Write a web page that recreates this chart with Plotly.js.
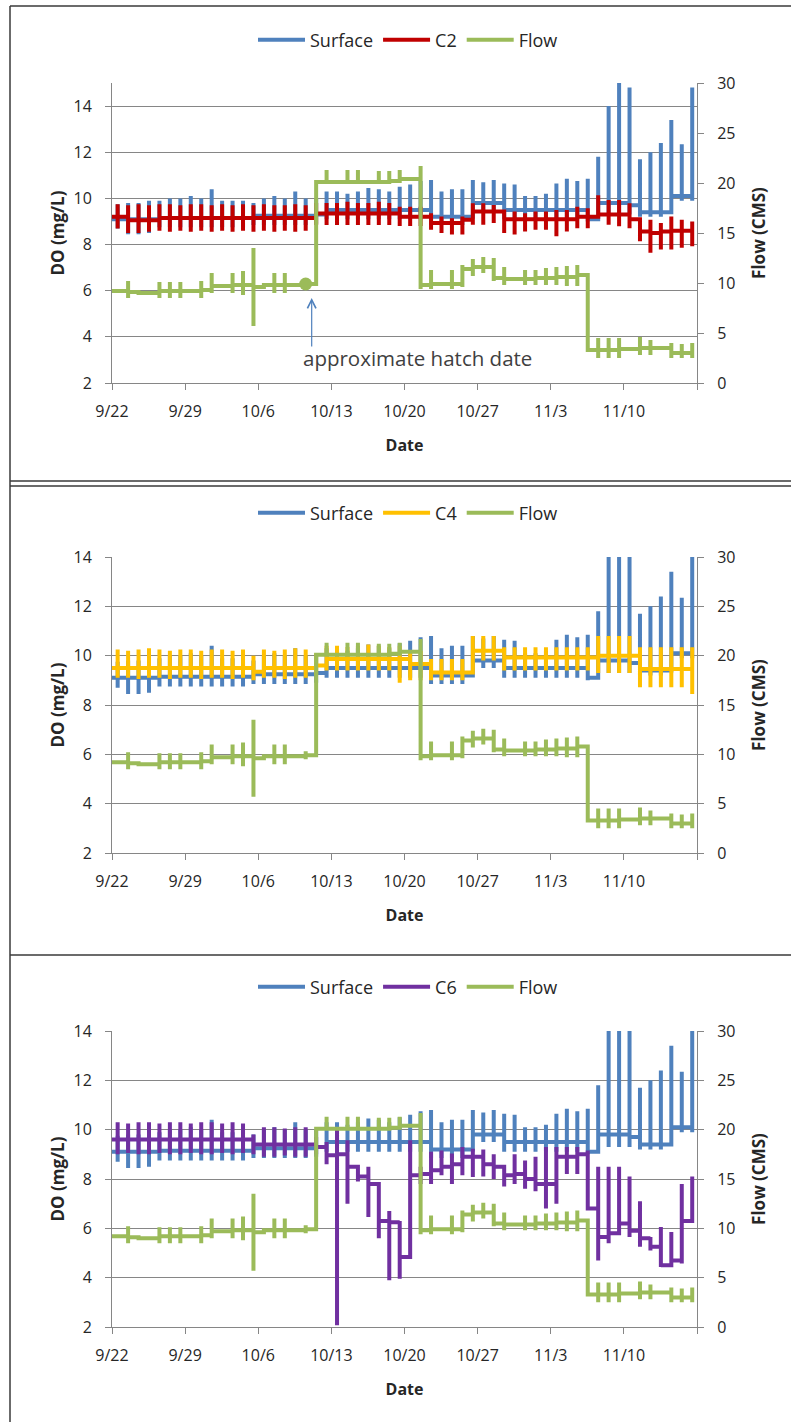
<!DOCTYPE html>
<html>
<head>
<meta charset="utf-8">
<script src="https://cdn.plot.ly/plotly-3.0.1.min.js"></script>
<style>html,body{margin:0;padding:0;background:#fff;}#chart{width:791px;height:1422px;}</style>
</head>
<body>
<div id="chart"></div>
<script>
// ---------- DATA (daily values, day 0 = 9/22) ----------
const startDate = [2009, 8, 22];
const nDays = 56;
const tickLabels = ['9/22','9/29','10/6','10/13','10/20','10/27','11/3','11/10',''];
const seriesNames = ['Surface','C2','C4','C6','Flow'];

const flowBase = [9.2,9.1,9.0,9.0,9.2,9.2,9.2,9.2,9.3,9.7, 9.7,9.8,9.8,9.6,9.8,9.8,9.8,9.8,9.9,20.1, 20.1,20.1,20.1,20.1,20.1,20.1,20.2,20.4,20.4,9.8, 9.9,9.9,9.9,11.4,11.6,11.6,10.5,10.4,10.4,10.4, 10.5,10.5,10.6,10.6,10.8,3.3,3.3,3.3,3.4,3.4, 3.5,3.5,3.5,3.0,3.0,3.0];
const flowHi = [null,10.2,null,null,10.1,10.1,10.1,null,10.2,11.0, null,11.0,11.2,13.5,null,11.0,11.0,null,10.3,null, 21.3,null,21.3,21.3,null,21.2,21.2,21.3,null,21.7, 11.3,null,11.3,11.8,12.4,12.6,12.5,11.6,null,11.3, 11.3,11.5,11.6,11.7,11.8,null,4.5,4.5,4.5,null, 4.6,4.3,null,4.0,3.9,4.0];
const flowLo = [null,8.5,null,null,8.5,8.5,8.5,null,8.5,9.0, null,9.0,8.8,5.7,null,9.0,9.0,null,9.5,null, 20.0,null,20.1,20.1,null,20.1,20.1,20.1,null,9.4, 9.4,null,9.4,9.6,10.7,11.0,10.2,9.8,null,9.8, 9.8,9.8,9.8,9.7,9.7,null,2.5,2.5,2.5,null, 2.8,2.8,null,2.5,2.5,2.5];

const surfBase = [9.1,9.1,9.1,9.1,9.15,9.15,9.15,9.15,9.15,9.15, 9.15,9.15,9.15,9.25,9.25,9.25,9.25,9.25,9.25,9.3, 9.5,9.5,9.5,9.5,9.5,9.5,9.5,9.5,9.5,9.5, 9.2,9.2,9.2,9.2,9.8,9.8,9.8,9.5,9.5,9.5, 9.5,9.5,9.5,9.5,9.5,9.1,9.8,9.8,9.8,9.7, 9.4,9.4,9.4,10.1,10.1,10.1];
const surfHi = [9.75,9.8,9.8,9.9,9.9,10.0,10.0,10.1,10.0,10.4, 9.9,9.9,9.9,9.8,10.0,10.1,10.0,10.3,10.0,10.0, 10.3,10.3,10.2,10.3,10.45,10.4,10.3,10.5,10.6,10.75, 10.8,10.3,10.4,10.4,10.8,10.7,10.8,10.65,10.6,10.1, 10.1,10.2,10.65,10.85,10.75,10.85,11.8,14.0,15.0,14.8, 11.7,12.0,12.4,13.4,12.35,14.8];
const surfLo = [8.7,8.45,8.45,8.5,8.75,8.75,8.75,8.75,8.75,8.75, 8.75,8.75,8.75,8.85,8.85,8.85,8.85,8.85,8.85,8.9, 9.1,9.1,9.1,9.1,9.1,9.1,9.1,9.1,9.1,9.1, 8.85,8.85,8.85,8.85,9.5,9.5,9.5,9.1,9.1,9.1, 9.1,9.1,9.1,9.1,9.1,9.0,9.3,9.3,9.3,9.3, 9.2,9.2,9.2,9.9,9.9,9.9];

const c2Base = [9.2,9.05,9.05,9.05,9.15,9.15,9.15,9.15,9.15,9.15, 9.15,9.15,9.15,9.15,9.15,9.15,9.15,9.15,9.15,9.35, 9.35,9.35,9.35,9.35,9.35,9.35,9.35,9.2,9.2,9.2, 8.93,8.93,8.93,9.07,9.43,9.43,9.43,9.1,9.1,9.1, 9.1,9.1,9.1,9.1,9.2,9.2,9.3,9.3,9.3,9.1, 8.57,8.5,8.57,8.6,8.6,8.6];
const c2Hi = [9.75,9.7,9.75,9.7,9.75,9.75,9.7,9.75,9.75,9.7, 9.75,9.7,9.75,9.7,9.75,9.7,9.7,9.75,9.7,9.8, 9.8,9.8,9.85,9.8,9.8,9.85,9.8,9.64,9.64,9.64, 9.36,9.21,9.14,9.21,9.79,9.79,9.71,9.43,9.43,9.36, 9.43,9.43,9.5,9.5,9.64,9.57,10.14,9.93,9.93,9.79, 8.93,9.07,8.93,9.21,9.07,9.0];
const c2Lo = [8.7,8.5,8.5,8.55,8.6,8.55,8.6,8.55,8.6,8.55, 8.6,8.55,8.6,8.55,8.6,8.55,8.6,8.55,8.6,8.85, 8.85,8.85,8.85,8.85,8.85,8.85,8.85,8.8,8.8,8.8, 8.64,8.5,8.43,8.43,8.86,8.86,8.93,8.5,8.43,8.57, 8.64,8.64,8.36,8.57,8.71,8.71,9.21,8.86,8.79,8.71, 8.14,7.64,7.79,7.79,7.86,7.93];

const c4Base = [9.5,9.5,9.5,9.5,9.5,9.5,9.5,9.5,9.5,9.5, 9.5,9.5,9.5,9.35,9.5,9.5,9.5,9.5,9.5,9.6, 9.86,9.86,9.86,9.86,9.86,9.86,9.86,9.86,9.66,9.66, 9.32,9.32,9.32,9.32,10.2,10.2,10.2,9.93,9.93,9.93, 9.93,9.93,9.93,9.93,9.93,9.93,10.0,10.0,10.0,10.0, 9.46,9.46,9.46,9.46,9.46,9.46];
const c4Hi = [10.25,10.2,10.25,10.3,10.25,10.2,10.25,10.25,10.2,10.25, 10.25,10.2,10.25,10.0,10.25,10.2,10.25,10.3,10.25,10.1, 10.4,10.4,10.35,10.4,10.45,10.4,10.35,10.4,10.2,10.2, 9.86,9.86,9.86,9.86,10.8,10.8,10.8,10.34,10.34,10.34, 10.34,10.34,10.34,10.34,10.34,10.34,10.8,10.8,10.8,10.8, 10.34,10.34,10.34,10.34,10.34,10.34];
const c4Lo = [9.1,9.1,9.05,9.1,9.1,9.05,9.1,9.1,9.05,9.1, 9.1,9.05,9.1,9.0,9.1,9.1,9.05,9.1,9.1,9.2, 9.4,9.4,9.4,9.4,9.4,9.4,9.4,8.9,9.0,9.0, 9.0,9.0,9.0,9.0,9.8,9.8,9.8,9.4,9.4,9.4, 9.4,9.4,9.4,9.4,9.4,9.4,9.3,9.3,9.3,9.3, 8.72,8.72,8.72,8.72,8.72,8.45];

const c6Base = [9.6,9.6,9.6,9.6,9.6,9.6,9.6,9.6,9.6,9.6, 9.6,9.6,9.6,9.4,9.4,9.4,9.4,9.4,9.4,9.3, 8.96,9.0,8.5,8.1,7.8,6.3,6.25,4.84,8.15,8.2, 8.35,8.5,8.6,8.9,8.9,8.6,8.5,8.15,8.2,8.0, 7.8,7.8,8.9,8.9,9.0,6.8,5.65,5.8,6.2,5.9, 5.6,5.25,4.5,4.7,6.3,6.3];
const c6Hi = [10.3,10.25,10.3,10.3,10.25,10.3,10.3,10.25,10.3,10.3, 10.25,10.3,10.25,9.8,10.1,10.1,10.05,10.1,10.1,9.7, 9.5,10.1,9.57,8.5,8.5,7.8,6.7,6.3,9.57,8.5, 9.1,9.16,9.03,9.3,9.23,9.2,9.0,8.5,9.0,8.75, 8.9,9.3,9.3,9.3,9.3,9.16,8.5,8.5,8.5,8.1, 7.1,5.65,6.05,5.85,7.8,8.1];
const c6Lo = [9.0,9.05,9.0,9.0,9.05,9.0,9.0,9.05,9.0,9.0, 9.05,9.0,9.05,9.0,8.9,8.9,8.95,8.9,8.9,9.0, 8.6,2.07,7.0,7.9,6.46,5.6,3.9,3.96,8.0,7.8, 7.8,8.15,7.8,8.15,8.08,8.1,8.0,7.7,7.8,7.6, 7.5,6.8,7.0,8.2,8.2,6.86,4.7,5.4,5.9,5.65, 5.25,5.1,4.43,4.5,4.57,6.3];

const hatchDay = 18;
const hatchLabel = 'approximate hatch date';

// ---------- helpers ----------
function dstr(day, hour) {
  const d = new Date(Date.UTC(startDate[0], startDate[1], startDate[2] + day, hour || 0));
  return d.toISOString().slice(0, 16).replace('T', ' ');
}
function buildXY(base, hi, lo) {
  const x = [dstr(0, 0)], y = [base[0]];
  for (let i = 0; i < base.length; i++) {
    const t = dstr(i, 13);
    if (hi[i] !== null && lo[i] !== null) { x.push(t, t); y.push(hi[i], lo[i]); }
    x.push(t); y.push(base[i]);
  }
  return {x, y};
}
const colors = {Surface:'#4F81BD', C2:'#C00000', C4:'#FFC000', C6:'#7030A0', Flow:'#9BBB59'};
const W = 791, H = 1422;
const px = v => v / W, py = v => 1 - v / H;
const FONT = 'Open Sans, Arial, sans-serif';
const gray = '#868686';
const txt = '#262626';

const surf = buildXY(surfBase, surfHi, surfLo);
const flow = buildXY(flowBase, flowHi, flowLo);
const cSeries = {C2: buildXY(c2Base, c2Hi, c2Lo), C4: buildXY(c4Base, c4Hi, c4Lo), C6: buildXY(c6Base, c6Hi, c6Lo)};

const panels = [
  {c:'C2', top:83, bottom:383, yMax:15, legendY:40},
  {c:'C4', top:557, bottom:853, yMax:14, legendY:513},
  {c:'C6', top:1031, bottom:1327, yMax:14, legendY:987}
];

const tickVals = tickLabels.map((_, k) => dstr(7 * k, 0));
const traces = [];
const layout = {
  width: W, height: H, margin: {l:0, r:0, t:0, b:0},
  paper_bgcolor: '#fff', plot_bgcolor: '#fff',
  font: {family: FONT, color: txt, size: 16},
  showlegend: true, shapes: [], annotations: []
};

panels.forEach((p, k) => {
  const n = k + 1;
  const xa = n === 1 ? 'x' : 'x' + n;
  const ya = 'y' + (2 * k + 1 === 1 ? '' : (2 * k + 1));
  const y2a = 'y' + (2 * k + 2);
  const leg = n === 1 ? 'legend' : 'legend' + n;
  const lineW = 4;
  traces.push({type:'scatter', mode:'lines', name:'Surface', x:surf.x, y:surf.y, xaxis:xa, yaxis:ya,
    line:{color:colors.Surface, width:lineW, shape:'hv'}, legend:leg});
  traces.push({type:'scatter', mode:'lines', name:p.c, x:cSeries[p.c].x, y:cSeries[p.c].y, xaxis:xa, yaxis:ya,
    line:{color:colors[p.c], width:lineW, shape:'hv'}, legend:leg});
  traces.push({type:'scatter', mode:'lines', name:'Flow', x:flow.x, y:flow.y, xaxis:xa, yaxis:y2a,
    line:{color:colors.Flow, width:lineW, shape:'hv'}, legend:leg});
  if (n === 1) {
    traces.push({type:'scatter', mode:'markers', x:[dstr(hatchDay, 13)], y:[flowBase[hatchDay]],
      xaxis:xa, yaxis:y2a, marker:{color:colors.Flow, size:13}, showlegend:false, hoverinfo:'skip'});
  }
  const xKey = n === 1 ? 'xaxis' : 'xaxis' + n;
  const yKey = 'yaxis' + (2 * k + 1 === 1 ? '' : (2 * k + 1));
  const y2Key = 'yaxis' + (2 * k + 2);
  const dom = [py(p.bottom), py(p.top)];
  layout[xKey] = {
    domain:[px(112), px(697)], anchor: ya, type:'date',
    range:[dstr(0,0), dstr(56,0)], tickmode:'array', tickvals:tickVals, ticktext:tickLabels,
    showgrid:false, zeroline:false, showline:true, linecolor:gray, linewidth:1,
    ticks:'outside', ticklen:6, tickcolor:gray, ticklabelstandoff:8,
    tickfont:{size:16, family:FONT, color:txt},
    title:{text:'Date', font:{size:16, family:FONT, color:txt, weight:'bold'}, standoff:18}
  };
  layout[yKey] = {
    domain:dom, anchor: xa, range:[2, p.yMax], tickmode:'array', tickvals:[2,4,6,8,10,12,14],
    showgrid:true, gridcolor:gray, gridwidth:1, zeroline:false, showline:true, linecolor:gray,
    ticks:'outside', ticklen:6, tickcolor:gray, ticklabelstandoff:10,
    tickfont:{size:16, family:FONT, color:txt},
    title:{text:'DO (mg/L)', font:{size:17, family:FONT, color:txt, weight:'bold'}, standoff:4}
  };
  layout[y2Key] = {
    overlaying: ya, anchor: xa, side:'right', range:[0, 30], tickmode:'linear', tick0:0, dtick:5,
    showgrid:false, zeroline:false, showline:true, linecolor:gray,
    ticks:'outside', ticklen:6, tickcolor:gray, ticklabelstandoff:10,
    tickfont:{size:16, family:FONT, color:txt},
    title:{text:'Flow (CMS)', font:{size:17, family:FONT, color:txt, weight:'bold'}, standoff:18}
  };
  layout[leg] = {
    orientation:'h', x:px(408), xanchor:'center', y:py(p.legendY), yanchor:'middle',
    font:{size:18, family:FONT, color:txt}, bgcolor:'rgba(0,0,0,0)', itemwidth:47
  };
});

// hatch date arrow + label
layout.annotations.push({
  xref:'x', yref:'y2', x:dstr(hatchDay, 13), y:flowBase[hatchDay], text:'', showarrow:true,
  axref:'pixel', ayref:'pixel', ax:0, ay:50, xshift:6, yshift:-14,
  arrowhead:5, arrowsize:1.4, arrowwidth:1.2, arrowcolor:'#4F81BD', standoff:0
});
layout.annotations.push({
  xref:'x', yref:'paper', x:dstr(hatchDay, 13), y:py(358), text:hatchLabel, showarrow:false,
  xanchor:'left', yanchor:'middle', xshift:-5, font:{size:20.5, family:FONT, color:'#404040'}
});

// frame lines
const frame = '#3a3a3a';
const hl = (y, w) => ({type:'line', xref:'paper', yref:'paper', x0:px(10), x1:1, y0:py(y), y1:py(y), line:{color:frame, width:w||1.5}});
layout.shapes.push(hl(6), hl(481), hl(486), hl(955));
layout.shapes.push({type:'line', xref:'paper', yref:'paper', x0:px(10), x1:px(10), y0:py(6), y1:0, line:{color:frame, width:1.5}});

Plotly.newPlot('chart', traces, layout, {displayModeBar:false, staticPlot:true});
</script>
</body>
</html>
